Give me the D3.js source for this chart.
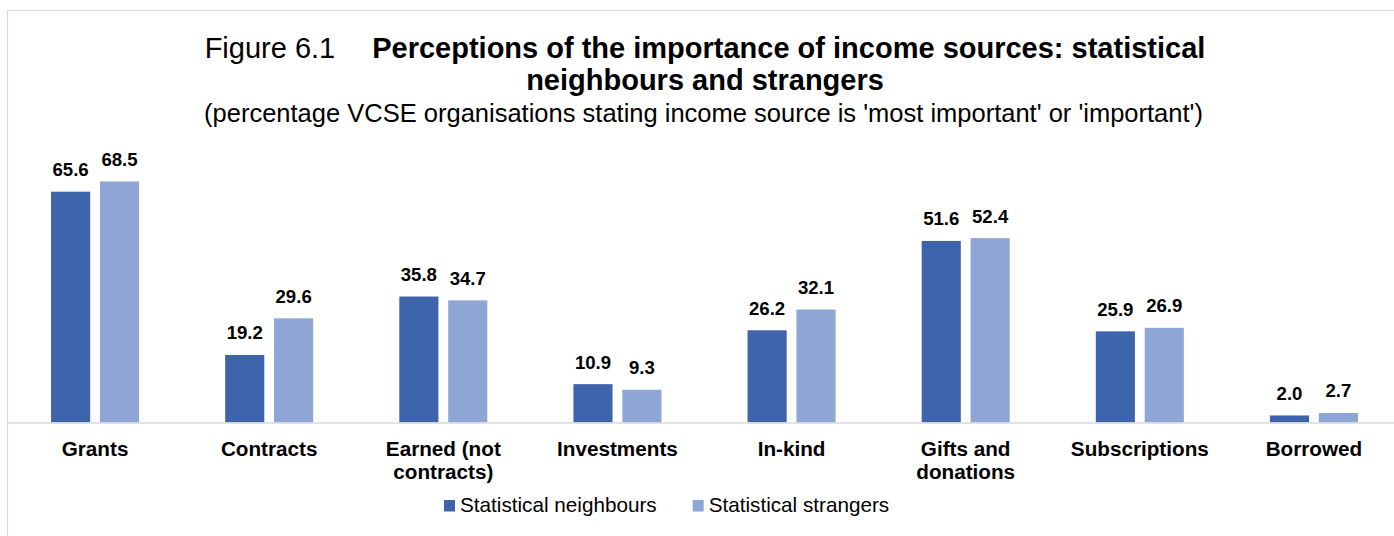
<!DOCTYPE html>
<html>
<head>
<meta charset="utf-8">
<script src="https://cdn.jsdelivr.net/npm/d3@7"></script>
<style>
  html, body { margin: 0; padding: 0; background: #ffffff; }
  svg { display: block; }
  text { font-family: "Liberation Sans", Arial, Helvetica, sans-serif; fill: #000; }
</style>
</head>
<body>
<svg id="chart" width="1394" height="536"></svg>
<script>
// ---- data ----
const categories = ["Grants", "Contracts", "Earned (not contracts)", "Investments", "In-kind", "Gifts and donations", "Subscriptions", "Borrowed"];
const seriesNames = ["Statistical neighbours", "Statistical strangers"];
const neighbours = [65.6, 19.2, 35.8, 10.9, 26.2, 51.6, 25.9, 2.0];
const strangers  = [68.5, 29.6, 34.7, 9.3, 32.1, 52.4, 26.9, 2.7];
const seriesColors = ["#3e64ab", "#8fa5d5"];
const titlePrefix = "Figure 6.1";
const titleLine1 = "Perceptions of the importance of income sources: statistical";
const titleLine2 = "neighbours and strangers";
const subtitle = "(percentage VCSE organisations stating income source is 'most important' or 'important')";

const W = 1394, H = 536;
const svg = d3.select("#chart");

// frame
svg.append("rect")
  .attr("x", 7.5).attr("y", 10.5)
  .attr("width", 1500).attr("height", 600)
  .attr("fill", "none").attr("stroke", "#d9d9d9").attr("stroke-width", 1.2);

// titles
const t1 = svg.append("text").attr("x", 705).attr("y", 58)
  .attr("text-anchor", "middle").style("font-size", "29px");
t1.append("tspan").text(titlePrefix);
t1.append("tspan").attr("dx", 37).style("font-weight", "bold").text(titleLine1);
svg.append("text").attr("x", 705).attr("y", 90)
  .attr("text-anchor", "middle").style("font-size", "29px").style("font-weight", "bold")
  .text(titleLine2);
svg.append("text").attr("x", 703.5).attr("y", 121.5)
  .attr("text-anchor", "middle").style("font-size", "25.5px")
  .text(subtitle);

// scales
const baseY = 422.5;
const x0 = d3.scaleBand().domain(categories).range([8, 1401]).paddingInner(0).paddingOuter(0);
const x1 = d3.scaleBand().domain(seriesNames).range([0, x0.bandwidth()]).paddingInner(0.2).paddingOuter(0.88);
const y = d3.scaleLinear().domain([0, 80]).range([baseY, 141]);

const rows = categories.map((c, i) => ({ cat: c, vals: [neighbours[i], strangers[i]] }));

const groups = svg.append("g").selectAll("g").data(rows).join("g")
  .attr("transform", d => `translate(${x0(d.cat)},0)`);

groups.selectAll("rect").data(d => d.vals.map((v, j) => ({ s: seriesNames[j], v, j })))
  .join("rect")
  .attr("x", d => x1(d.s))
  .attr("width", x1.bandwidth())
  .attr("y", d => y(d.v))
  .attr("height", d => baseY - y(d.v))
  .attr("fill", d => seriesColors[d.j]);

groups.selectAll("text.val").data(d => d.vals.map((v, j) => ({ s: seriesNames[j], v, j })))
  .join("text").attr("class", "val")
  .attr("x", d => x1(d.s) + x1.bandwidth() / 2)
  .attr("y", d => y(d.v) - 15.5)
  .attr("text-anchor", "middle")
  .style("font-size", "18.6px").style("font-weight", "bold")
  .text(d => d.v.toFixed(1));

// baseline axis
const xAxis = d3.axisBottom(x0).tickSize(0).tickPadding(0).tickFormat("");
const axisG = svg.append("g").attr("transform", `translate(0,${baseY})`).call(xAxis);
axisG.select(".domain").attr("d", `M8,0.5H${W}`).attr("stroke", "#d9d9d9").attr("stroke-width", 1.5);

// category labels with wrapping
function wrapLines(txt, maxW, fontCss) {
  const tmp = svg.append("text").style("font", fontCss);
  const words = txt.split(" ");
  const lines = [];
  let cur = "";
  words.forEach(w => {
    const test = cur ? cur + " " + w : w;
    tmp.text(test);
    if (tmp.node().getComputedTextLength() > maxW && cur) { lines.push(cur); cur = w; }
    else cur = test;
  });
  lines.push(cur);
  tmp.remove();
  return lines;
}
const catFont = "bold 20.7px 'Liberation Sans', Arial, sans-serif";
categories.forEach(c => {
  const lines = wrapLines(c, 150, catFont);
  const t = svg.append("text")
    .attr("x", x0(c) + x0.bandwidth() / 2).attr("y", 456)
    .attr("text-anchor", "middle")
    .style("font-size", "20.7px").style("font-weight", "bold");
  lines.forEach((ln, i) => t.append("tspan").attr("x", x0(c) + x0.bandwidth() / 2).attr("dy", i === 0 ? 0 : 23).text(ln));
});

// legend
const legend = svg.append("g");
let lx = 444;
seriesNames.forEach((s, j) => {
  legend.append("rect").attr("x", lx).attr("y", 500).attr("width", 11).attr("height", 11.5).attr("fill", seriesColors[j]);
  const t = legend.append("text").attr("x", lx + 16).attr("y", 512).style("font-size", "20.7px").text(s);
  lx = lx + 16 + t.node().getComputedTextLength() + 36;
});
</script>
</body>
</html>
